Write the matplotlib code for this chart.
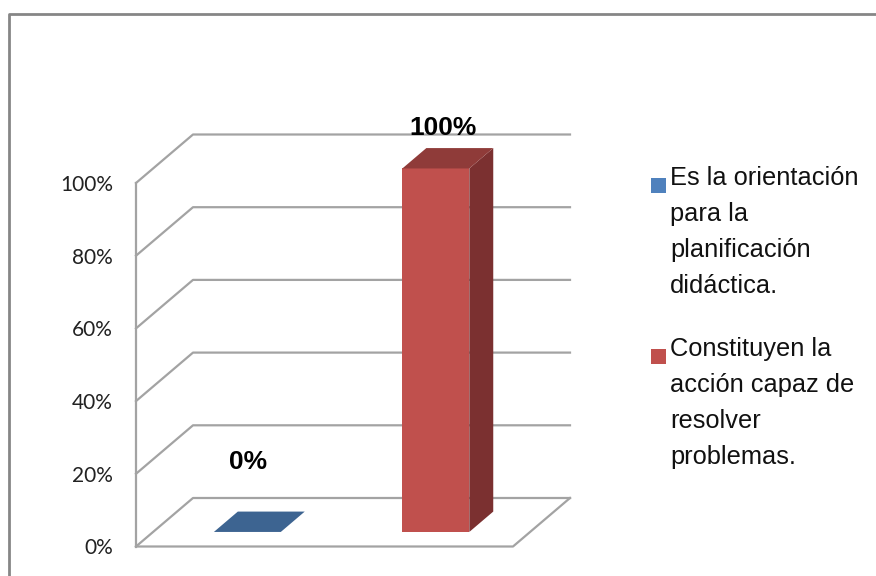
import matplotlib.pyplot as plt
from matplotlib.patches import Polygon, Rectangle
from matplotlib.lines import Line2D

# survey answers
categories = ["Es la orientación\npara la\nplanificación\ndidáctica.",
              "Constituyen la\nacción capaz de\nresolver\nproblemas."]
values = [0, 100]
value_labels = ["0%", "100%"]
tick_values = [0, 20, 40, 60, 80, 100]
tick_labels = ["0%", "20%", "40%", "60%", "80%", "100%"]

front_colors = ["#4F81BD", "#C0504D"]
side_colors = ["#385D8A", "#7B3030"]
top_colors = ["#3D6491", "#8F3B39"]
grid_color = "#A3A3A3"

W, H = 876, 576
fig = plt.figure(figsize=(W / 100, H / 100), dpi=100)
fig.patch.set_facecolor("white")

# axes = front plane of the 3d box
ax = fig.add_axes([136 / W, 1 - 546.5 / H, 377 / W, 363.5 / H])
ax.set_xlim(0, len(categories))
ax.set_ylim(0, 100)
for s in ax.spines.values():
    s.set_visible(False)
ax.set_xticks([])
ax.set_yticks(tick_values, tick_labels)
ax.tick_params(axis="y", length=0, pad=16.5, labelsize=15, labelcolor="#222222")
for t in ax.get_yticklabels():
    t.set_fontfamily(["Lato", "DejaVu Sans"])

# oblique offset for full depth, in data units
DX = 57 / 377 * len(categories)
DY = 48.5 / 363.5 * 100


def proj(x, y, d):
    return (x + d * DX, y + d * DY)


n = len(categories)
lw = 1.6
# back wall + side wall gridlines
for v in tick_values:
    ax.add_line(Line2D([0, DX, n + DX], [v, v + DY, v + DY], color=grid_color,
                       lw=lw, clip_on=False, zorder=1))
# left wall front edge and floor
ax.add_line(Line2D([0, 0], [0, 100], color=grid_color, lw=lw, clip_on=False, zorder=1))
ax.add_line(Line2D([0, n, n + DX], [0, 0, DY], color=grid_color, lw=lw,
                   clip_on=False, zorder=1))

bw = 0.355
d0, d1 = 0.30, 0.72
for i, v in enumerate(values):
    x0 = i + 0.5 - bw / 2
    x1 = x0 + bw
    front = [proj(x0, 0, d0), proj(x1, 0, d0), proj(x1, v, d0), proj(x0, v, d0)]
    side = [proj(x1, 0, d0), proj(x1, 0, d1), proj(x1, v, d1), proj(x1, v, d0)]
    top = [proj(x0, v, d0), proj(x1, v, d0), proj(x1, v, d1), proj(x0, v, d1)]
    for pts, c in ((side, side_colors[i]), (front, front_colors[i]), (top, top_colors[i])):
        ax.add_patch(Polygon(pts, closed=True, facecolor=c, edgecolor="none",
                             clip_on=False, zorder=3))

# value labels above each bar
label_offsets = [(-3, 67), (4, 38)]
for i, (v, lab) in enumerate(zip(values, value_labels)):
    ax.annotate(lab, xy=proj(i + 0.5, v, 0.36), xytext=label_offsets[i],
                textcoords="offset pixels", ha="center", va="center",
                fontsize=19, fontweight="bold",
                family=["Liberation Sans Narrow", "Liberation Sans", "DejaVu Sans"],
                annotation_clip=False, zorder=5)

# legend drawn by hand to keep the wrapped lines
legend_tops = [166, 337]
for i, lab in enumerate(categories):
    y = legend_tops[i]
    fig.add_artist(Rectangle((651 / W, 1 - (y + 27) / H), 15 / W, 15 / H,
                             transform=fig.transFigure, facecolor=front_colors[i],
                             edgecolor="none"))
    fig.text(670 / W, 1 - y / H, lab, ha="left", va="top", fontsize=18.3,
             family=["Liberation Sans", "DejaVu Sans"], linespacing=1.63,
             color="#111111")

# chart area border
fig.add_artist(Line2D([9 / W, 9 / W, 1], [0, 1 - 14 / H, 1 - 14 / H],
                      transform=fig.transFigure, color="#868686", lw=2))

fig.savefig("out.png", dpi=100)
